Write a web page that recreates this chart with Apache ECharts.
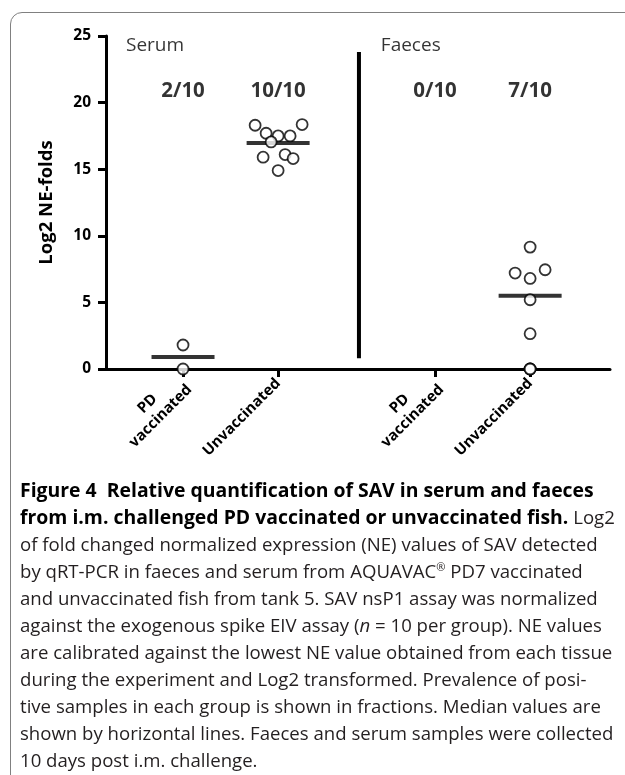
<!DOCTYPE html>
<html>
<head>
<meta charset="utf-8">
<script src="https://cdn.jsdelivr.net/npm/echarts@6/dist/echarts.min.js"></script>
<style>
  html, body { margin: 0; padding: 0; background: #fff; }
  #wrap { position: relative; width: 625px; height: 775px; overflow: hidden; }
  #frame { position: absolute; left: 10px; top: 12px; width: 700px; height: 900px;
           border: 1.5px solid #808080; border-radius: 12px; box-sizing: border-box; }
  #chart { position: absolute; left: 0; top: 0; width: 625px; height: 775px; }
  #caption { position: absolute; left: 20px; top: 476px; width: 600px;
             font-family: "Open Sans", sans-serif; font-size: 18.6px; line-height: 27px;
             color: #231f20; white-space: nowrap; }
  #caption b { color: #000; font-size: 19.4px; }
  #caption sup { font-size: 11px; line-height: 0; }
</style>
</head>
<body>
<div id="wrap">
  <div id="frame"></div>
  <div id="chart"></div>
  <div id="caption">
    <div><b>Figure 4&nbsp; Relative quantification of SAV in serum and faeces</b></div>
    <div><b>from i.m. challenged PD vaccinated or unvaccinated fish.</b> Log2</div>
    <div>of fold changed normalized expression (NE) values of SAV detected</div>
    <div>by qRT-PCR in faeces and serum from AQUAVAC<sup>®</sup> PD7 vaccinated</div>
    <div>and unvaccinated fish from tank 5. SAV nsP1 assay was normalized</div>
    <div>against the exogenous spike EIV assay (<i>n</i> = 10 per group). NE values</div>
    <div>are calibrated against the lowest NE value obtained from each tissue</div>
    <div>during the experiment and Log2 transformed. Prevalence of posi-</div>
    <div>tive samples in each group is shown in fractions. Median values are</div>
    <div>shown by horizontal lines. Faeces and serum samples were collected</div>
    <div>10 days post i.m. challenge.</div>
  </div>
</div>
<script>
// groups along the x axis
const groupLabels = ['PD vaccinated', 'Unvaccinated', 'PD vaccinated', 'Unvaccinated'];
const tissues = ['Serum', 'Faeces'];
const prevalence = ['2/10', '10/10', '0/10', '7/10'];

// Log2 NE-fold values per group
const serumVaccinated = [1.8, 0];
const serumUnvaccinated = [18.3, 18.35, 17.7, 17.5, 17.5, 17.05, 16.1, 15.9, 15.8, 14.9];
const faecesVaccinated = [];
const faecesUnvaccinated = [9.15, 7.45, 7.2, 6.8, 5.2, 2.65, 0, 0, 0];
const medians = [0.9, 16.97, null, 5.5];

const yTicks = [0, 5, 10, 15, 20, 25];

// layout: where each group sits on the x scale, and horizontal scatter spread (px)
const groupX = [0.81, 1.81, 3.46, 4.46];
const spreadPx = [
  [0, 0],
  [-23, 24, -12, 0, 12, -7, 7, -15, 15, 0],
  [],
  [0, 15, -15, 0, 0, 0, 0, 0, 0]
];
const tissueX = [0.21, 2.89];
const dividerX = 2.66;
const dividerSpan = [0.8, 23.8];

const groups = [serumVaccinated, serumUnvaccinated, faecesVaccinated, faecesUnvaccinated];

const pointData = [];
groups.forEach((vals, g) => {
  vals.forEach((v, i) => {
    pointData.push({ value: [groupX[g], v], symbolOffset: [spreadPx[g][i] || 0, 0] });
  });
});

const medianData = medians
  .map((m, g) => (m === null ? null : [groupX[g], m]))
  .filter(d => d !== null);

const font = 'Open Sans';

const chart = echarts.init(document.getElementById('chart'), null, { renderer: 'canvas' });

chart.setOption({
  animation: false,
  backgroundColor: 'transparent',
  grid: { left: 106, right: 15, top: 36, bottom: 406, containLabel: false },
  xAxis: {
    type: 'value',
    min: 0,
    max: 5.3,
    splitLine: { show: false },
    axisLine: { lineStyle: { color: '#000', width: 3 } },
    axisTick: { customValues: groupX, length: 8, lineStyle: { color: '#000', width: 3 } },
    axisLabel: {
      customValues: groupX,
      rotate: 45,
      margin: 12,
      color: '#000',
      fontFamily: font,
      fontWeight: 'bold',
      fontSize: 15,
      lineHeight: 18,
      formatter: val => {
        const i = groupX.findIndex(x => Math.abs(x - val) < 0.01);
        if (i < 0) return '';
        const name = groupLabels[i];
        if (name.indexOf(' ') > 0) {
          const parts = name.split(' ');
          return '{pd|' + parts[0] + '}\n{b|' + parts[1] + '}';
        }
        return '{b|' + name + '}';
      },
      rich: {
        pd: { fontFamily: font, fontWeight: 'bold', fontSize: 15, color: '#000', padding: [0, 31, 0, 0] },
        b: { fontFamily: font, fontWeight: 'bold', fontSize: 15, color: '#000' }
      }
    }
  },
  yAxis: {
    type: 'value',
    min: 0,
    max: 25,
    interval: 5,
    name: 'Log2 NE-folds',
    nameLocation: 'middle',
    nameRotate: 90,
    nameGap: 50,
    nameTextStyle: { color: '#000', fontFamily: font, fontWeight: 'bold', fontSize: 18.5 },
    splitLine: { show: false },
    axisLine: { show: true, lineStyle: { color: '#000', width: 3 } },
    axisTick: { show: true, length: 8, lineStyle: { color: '#000', width: 3 } },
    axisLabel: {
      margin: 15,
      color: '#000',
      fontFamily: font,
      fontWeight: 'bold',
      fontSize: 15.5,
      formatter: v => (yTicks.indexOf(v) >= 0 ? String(v) : '')
    }
  },
  series: [
    {
      name: 'divider',
      type: 'line',
      data: [[dividerX, dividerSpan[0]], [dividerX, dividerSpan[1]]],
      symbol: 'none',
      lineStyle: { color: '#000', width: 4 },
      z: 2
    },
    {
      name: 'median',
      type: 'scatter',
      data: medianData,
      symbol: 'rect',
      symbolSize: [63, 4],
      itemStyle: { color: '#000' },
      z: 3
    },
    {
      name: 'samples',
      type: 'scatter',
      data: pointData,
      symbol: 'circle',
      symbolSize: 11,
      itemStyle: { color: '#fff', borderColor: '#000', borderWidth: 1.8 },
      z: 4
    },
    {
      name: 'prevalence',
      type: 'scatter',
      data: groupX.map(x => [x, 20.85]),
      symbolSize: 0,
      label: {
        show: true,
        position: 'inside',
        formatter: p => prevalence[p.dataIndex],
        color: '#000',
        fontFamily: font,
        fontWeight: 'bold',
        fontSize: 20.5
      },
      z: 5
    },
    {
      name: 'tissue',
      type: 'scatter',
      data: tissueX.map(x => [x, 24.3]),
      symbolSize: 0,
      label: {
        show: true,
        position: 'inside',
        align: 'left',
        formatter: p => tissues[p.dataIndex],
        color: '#000',
        fontFamily: font,
        fontSize: 19
      },
      z: 5
    }
  ]
});
</script>
</body>
</html>
